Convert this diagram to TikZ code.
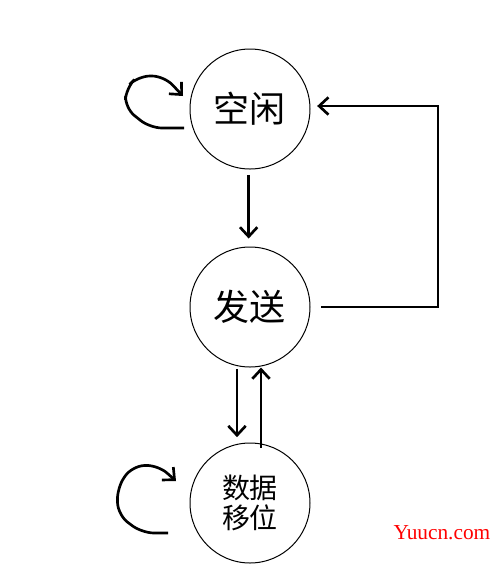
\documentclass[tikz,border=0pt]{standalone}
\usepackage{fontspec}
\newfontfamily\cjk{Noto Sans CJK SC}
\usetikzlibrary{arrows.meta}
\begin{document}
\begin{tikzpicture}[x=0.75pt,y=-0.75pt,
  state/.style={draw,circle,line width=0.75pt,minimum size=90pt,inner sep=0pt,font=\cjk},
  conn/.style={line width=2pt,-{Straight Barb[length=7pt,width=13pt,line width=2pt]}},
  loopline/.style={line width=2pt,rounded corners=9pt,-{Straight Barb[length=7pt,width=13pt,line width=2pt]}}]
\useasboundingbox (0,0) rectangle (504,587);
\node[state,font=\cjk\fontsize{27}{30}\selectfont] (idle) at (250,109) {空闲};
\node[state,font=\cjk\fontsize{27}{30}\selectfont] (send) at (250,307) {发送};
\node[state,font=\cjk\fontsize{21}{24}\selectfont,align=center] (shift) at (250,503) {数据\\[-2pt]移位};
% idle -> send
\draw[conn] ([xshift=-1pt,yshift=-4pt]idle.south) -- ([xshift=-1pt,yshift=6pt]send.north);
% send -> idle feedback
\coordinate (c1) at (438,307);
\coordinate (c2) at (438,106);
\draw[conn] ([xshift=8pt]send.east) -- (c1) -- (c2) -- ([xshift=5pt]idle.east |- c2);
% send <-> shift
\draw[conn] ([xshift=-9.75pt,yshift=-1pt]send.south) -- ([xshift=-9.75pt,yshift=4pt]shift.north);
\draw[conn] ([xshift=8.25pt,yshift=-4pt]shift.north) -- ([xshift=8.25pt,yshift=0pt]send.south);
% self loops
\coordinate (l1a) at (184,128);
\coordinate (l1b) at (183,96);
\draw[loopline] (l1a) -- (150,128) -- (125,108) -- (126,88) -- (138,76) -- (164,76) -- (l1b);
\coordinate (l3a) at (168,533);
\coordinate (l3b) at (176,481);
\draw[loopline] (l3a) -- (142,533) -- (118,515) -- (117,488) -- (132,466) -- (158,465) -- (l3b);
% watermark
\node[text=red,font=\fontspec{Liberation Serif}\fontsize{16}{18}\selectfont] (wm) at (442,533) {Yuucn.com};
\end{tikzpicture}
\end{document}
